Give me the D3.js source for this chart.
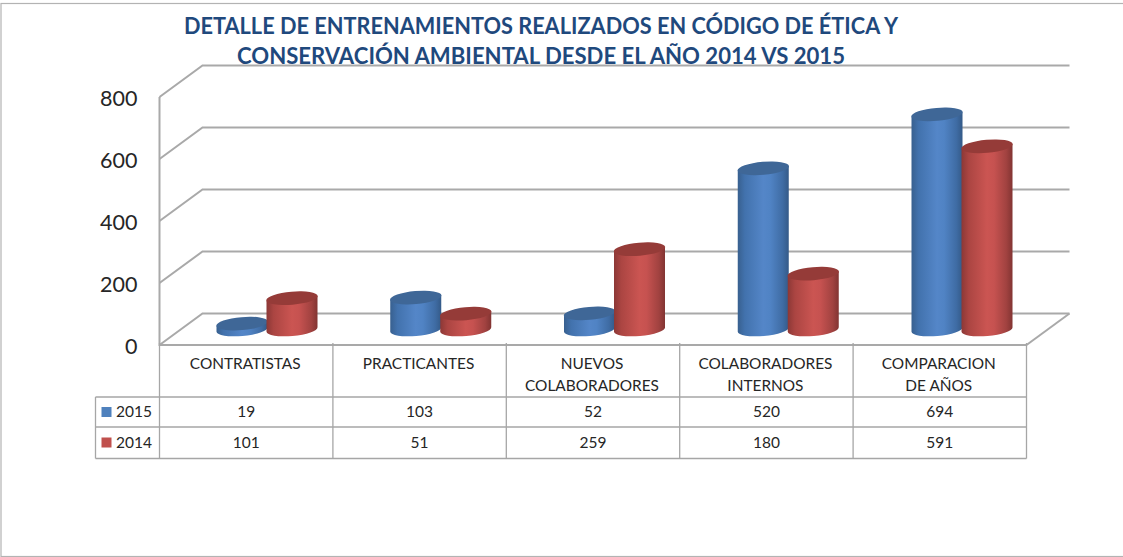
<!DOCTYPE html>
<html><head><meta charset="utf-8">
<script src="https://cdn.jsdelivr.net/npm/d3@7/dist/d3.min.js"></script>
<style>html,body{margin:0;padding:0;background:#fff}svg{display:block}text{font-family:Lato,"Open Sans",sans-serif}</style>
</head><body><div id="c"></div>
<script>
const categories = [["CONTRATISTAS"],["PRACTICANTES"],["NUEVOS","COLABORADORES"],["COLABORADORES","INTERNOS"],["COMPARACION","DE AÑOS"]];
const seriesNames = ["2015","2014"];
const values2015 = [19,103,52,520,694];
const values2014 = [101,51,259,180,591];
const yTicks = [0,200,400,600,800];
const titleLines = ["DETALLE DE ENTRENAMIENTOS REALIZADOS EN CÓDIGO DE ÉTICA Y","CONSERVACIÓN AMBIENTAL DESDE EL AÑO 2014 VS 2015"];

const W=1123,H=557;
const svg=d3.select("#c").append("svg").attr("width",W).attr("height",H);
const defs=svg.append("defs");
function grad(id,stops){
  const g=defs.append("linearGradient").attr("id",id).attr("x1",0).attr("x2",1).attr("y1",0).attr("y2",0);
  stops.forEach(s=>g.append("stop").attr("offset",s[0]).attr("stop-color",s[1]));
}
grad("g2015",[[0,"#38608f"],[.14,"#4272ad"],[.5,"#5486c8"],[.64,"#5083c4"],[.88,"#3f6ca4"],[1,"#345a88"]]);
grad("g2014",[[0,"#8c3836"],[.14,"#ab4542"],[.5,"#cb5552"],[.64,"#c65250"],[.88,"#a14240"],[1,"#823432"]]);

const frontL=159.5,frontR=1026.5,dx=43,dy=-31.5,axisY=345,topY=97;
const y=d3.scaleLinear().domain([0,800]).range([axisY,topY]);
const x=d3.scaleBand().domain(d3.range(categories.length)).range([frontL,frontR]);
const grid="#a9a9a9";

// border
svg.append("rect").attr("x",1).attr("y",3.5).attr("width",W+4).attr("height",553).attr("fill","none").attr("stroke","#b3b3b3").attr("stroke-width",1.2);

// title
svg.append("g").selectAll("text").data(titleLines).join("text")
  .attr("x",541).attr("y",(d,i)=>34+i*30)
  .attr("text-anchor","middle").attr("font-size",22.5).attr("font-weight",700).attr("fill","#1f497d")
  .attr("textLength",(d,i)=>i?608:714).attr("lengthAdjust","spacingAndGlyphs").text(d=>d);

// walls
const wall=svg.append("g").attr("fill","none").attr("stroke",grid).attr("stroke-width",2);
wall.selectAll("path.g").data(yTicks).join("path").attr("class","g")
  .attr("d",t=>d3.line()([[frontL,y(t)],[frontL+dx,y(t)+dy],[frontR+dx,y(t)+dy]]));
wall.append("path").attr("d",d3.line()([[frontR+dx,y(0)+dy],[frontR,y(0)]]));
wall.append("path").attr("d",d3.line()([[frontL,y(800)],[frontL,y(0)],[frontR,y(0)]]));

// y axis
const ax=svg.append("g").attr("transform",`translate(${frontL-22},1)`)
  .call(d3.axisLeft(y).tickValues(yTicks).tickSize(0).tickPadding(0).tickFormat(d3.format("d")));
ax.select(".domain").remove();
ax.selectAll("text").attr("font-size",21.5).attr("fill","#262626").attr("dy","0.36em").style("font-family","Lato,sans-serif");

// cylinders
const rx=25.5,ry=6.5,rot=-5,base=329.5;
const k=Math.abs(y(1)-y(0));
const barX=d3.scaleLinear().domain([0,4]).range([0,695]);
function cyl(g,cx,cy,v,fill,top){
  const h=v*k, yt=cy-h;
  const tilt=rx*Math.tan(-rot*Math.PI/180);
  g.append("path").attr("fill",`url(#${fill})`)
   .attr("d",`M${cx-rx},${yt+tilt} L${cx-rx},${cy+tilt} A${rx},${ry} ${rot} 0 0 ${cx+rx},${cy-tilt} L${cx+rx},${yt-tilt} Z`);
  g.append("ellipse").attr("cx",cx).attr("cy",yt).attr("rx",rx+.3).attr("ry",ry)
   .attr("transform",`rotate(${rot} ${cx} ${yt})`).attr("fill",top);
}
const bars=svg.append("g");
categories.forEach((c,i)=>{
  cyl(bars,242+barX(i),base,values2015[i],"g2015","#3f6797");
  cyl(bars,292+barX(i),base,values2014[i],"g2014","#953b38");
});

// data table
const tY=[345,397,427,458.5],tL=95.5;
const tb=svg.append("g").attr("stroke","#a6a6a6").attr("stroke-width",1.3);
[tY[1],tY[2],tY[3]].forEach(v=>tb.append("line").attr("x1",tL).attr("x2",frontR).attr("y1",v).attr("y2",v));
tb.append("line").attr("x1",tL).attr("x2",tL).attr("y1",tY[1]).attr("y2",tY[3]);
d3.range(categories.length+1).forEach(i=>{
  const xx=i==categories.length?frontR:x(i);
  tb.append("line").attr("x1",xx).attr("x2",xx).attr("y1",tY[0]-2).attr("y2",tY[3]);
});
const fs=15.5,tc="#262626";
categories.forEach((c,i)=>{
  c.forEach((l,j)=>svg.append("text").attr("x",x(i)+x.bandwidth()/2-1).attr("y",368.5+j*22.5)
    .attr("text-anchor","middle").attr("font-size",15.4).attr("fill",tc).text(l));
  [values2015,values2014].forEach((s,r)=>svg.append("text").attr("x",x(i)+x.bandwidth()/2).attr("y",r?447.5:417)
    .attr("text-anchor","middle").attr("font-size",fs).attr("fill",tc).text(s[i]));
});
seriesNames.forEach((n,r)=>{
  const yy=r?442.5:412;
  svg.append("rect").attr("x",101.5).attr("y",yy-5).attr("width",10).attr("height",10).attr("fill",r?"#c0504d":"#4f81bd");
  svg.append("text").attr("x",116).attr("y",yy+5).attr("font-size",fs).attr("fill",tc).text(n);
});
</script></body></html>
